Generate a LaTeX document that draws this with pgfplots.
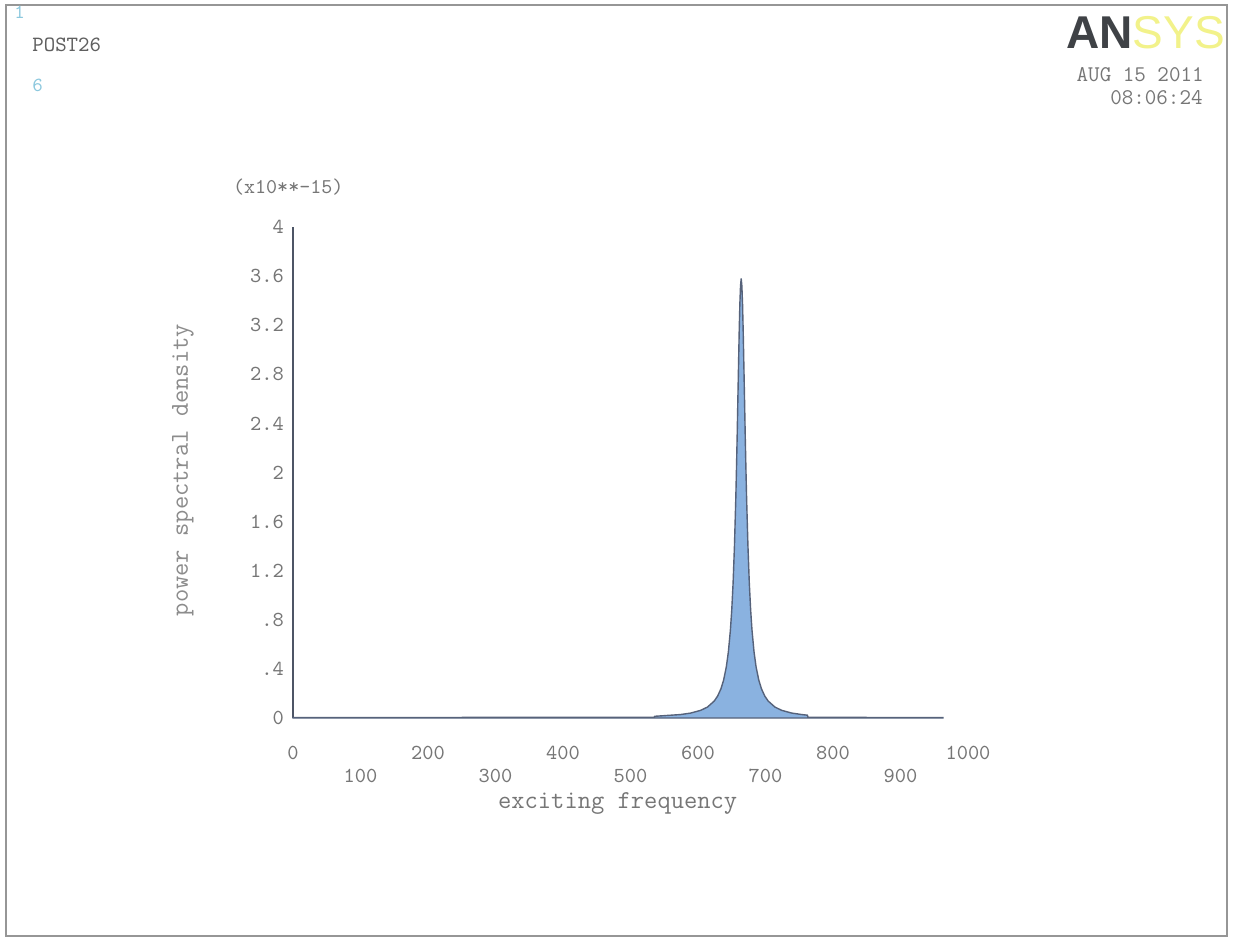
\documentclass[border=0pt]{standalone}
\usepackage{pgfplots}
\pgfplotsset{compat=1.18}
\usepackage{fontspec}
\newfontfamily\logofont{Liberation Sans}
\definecolor{textgray}{RGB}{118,118,118}
\definecolor{labgray}{RGB}{140,140,140}
\definecolor{darkgray}{RGB}{95,95,95}
\definecolor{axiscol}{RGB}{77,85,102}
\definecolor{fillblue}{RGB}{138,178,224}
\definecolor{curvecol}{RGB}{86,98,122}
\definecolor{logodark}{RGB}{63,66,70}
\definecolor{logoyellow}{RGB}{242,242,138}
\definecolor{lightblue}{RGB}{140,200,222}
\definecolor{framecol}{RGB}{150,150,150}
\pgfplotstableread{
f psd
0 0.004
100 0.004
200 0.004
300 0.005
400 0.005
500 0.006
535 0.006
536 0.014
574 0.028
589 0.040
604 0.0625
614 0.089
624 0.138
629 0.178
634 0.238
638 0.310
642 0.418
645 0.539
648 0.716
650 0.88
652 1.10
654 1.40
656 1.79
657 2.03
658 2.29
659 2.58
660 2.86
661 3.14
662 3.37
663 3.52
664 3.58
665 3.52
666 3.37
667 3.14
668 2.86
669 2.58
670 2.29
671 2.03
672 1.79
674 1.40
676 1.10
678 0.88
680 0.716
683 0.539
686 0.418
690 0.310
694 0.238
699 0.178
704 0.138
714 0.089
724 0.0625
739 0.040
754 0.028
762 0.023
763 0.006
800 0.005
900 0.004
963 0.004
}\psddata
\begin{document}
\begin{tikzpicture}
\useasboundingbox (0pt,0pt) rectangle (616.5pt,469.5pt);
\fill[white] (0pt,0pt) rectangle (616.5pt,469.5pt);
\draw[framecol,line width=0.8pt] (3pt,1.5pt) rectangle (613.5pt,467pt);
% header texts
\node[anchor=west,inner sep=0pt,text=lightblue,font=\ttfamily\fontsize{10}{11}\selectfont] at (7pt,463.5pt) {1};
\node[anchor=west,inner sep=0pt,text=darkgray,font=\ttfamily\fontsize{10.9}{12}\selectfont] at (16pt,447pt) {POST26};
\node[anchor=west,inner sep=0pt,text=lightblue,font=\ttfamily\fontsize{10}{12}\selectfont] at (16pt,427pt) {6};
\node[anchor=west,inner sep=0pt] at (533pt,453pt) {\logofont\fontsize{23}{24}\selectfont\textcolor{logodark}{\bfseries AN}\textcolor{logoyellow}{SYS}};
\node[anchor=east,inner sep=0pt,text=textgray,font=\ttfamily\fontsize{11.2}{12}\selectfont] at (602pt,432pt) {AUG 15 2011};
\node[anchor=east,inner sep=0pt,text=textgray,font=\ttfamily\fontsize{11.2}{12}\selectfont] at (601.5pt,420.5pt) {08:06:24};
\begin{axis}[
  at={(146.5pt,110.5pt)}, anchor=south west,
  scale only axis, width=337.5pt, height=245.5pt,
  xmin=0, xmax=1000, ymin=0, ymax=4,
  axis lines*=left,
  x axis line style={draw=none},
  y axis line style={draw=axiscol,line width=0.9pt},
  major tick length=0pt,
  clip=false,
  xtick={0,100,...,1000},
  xticklabels={0,\raisebox{-11.5pt}{100},200,\raisebox{-11.5pt}{300},400,\raisebox{-11.5pt}{500},600,\raisebox{-11.5pt}{700},800,\raisebox{-11.5pt}{900},1000},
  xticklabel style={anchor=base,yshift=-20.5pt,font=\ttfamily\fontsize{10.7}{12}\selectfont,text=textgray},
  ytick={0,0.4,0.8,1.2,1.6,2,2.4,2.8,3.2,3.6,4},
  yticklabels={0,.4,.8,1.2,1.6,2,2.4,2.8,3.2,3.6,4},
  yticklabel style={font=\ttfamily\fontsize{10.7}{12}\selectfont,text=textgray,xshift=-1pt},
  xlabel={exciting frequency},
  xlabel style={at={(axis description cs:0.481,-0.174)},anchor=center,font=\ttfamily\fontsize{12.9}{14}\selectfont,text=textgray},
  ylabel={power spectral density},
  ylabel style={at={(axis description cs:-0.163,0.505)},anchor=center,font=\ttfamily\fontsize{12.9}{14}\selectfont,text=labgray},
]
\addplot[draw=curvecol,line width=0.7pt,fill=fillblue] table[x=f,y=psd] {\psddata} \closedcycle;
\node[font=\ttfamily\fontsize{10.5}{12}\selectfont,text=textgray] at (axis description cs:-0.007,1.081) {(x10**-15)};
\end{axis}
\end{tikzpicture}
\end{document}
